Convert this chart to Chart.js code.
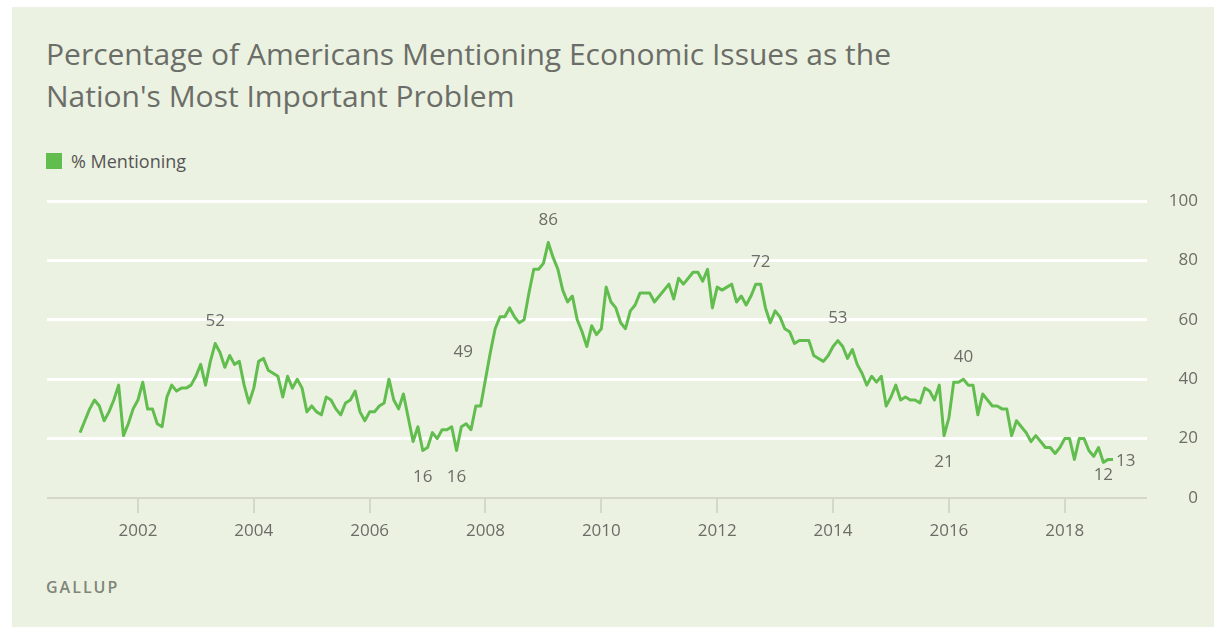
<!DOCTYPE html>
<html>
<head>
<meta charset="utf-8">
<title>Economic Issues as Most Important Problem</title>
<script src="https://cdn.jsdelivr.net/npm/chart.js@4.4.1/dist/chart.umd.min.js"></script>
<style>
  html, body { margin: 0; padding: 0; background: #fff; }
  body { width: 1226px; height: 635px; position: relative; overflow: hidden; font-family: "Open Sans", sans-serif; }
  .panel { position: absolute; left: 12px; top: 7px; width: 1202px; height: 620px; background: #ecf2e1; }
  .title { position: absolute; left: 46px; top: 33px; margin: 0; font-size: 30px; font-weight: 400; line-height: 42px; color: #6b6d68; }
  .legend { position: absolute; left: 46px; top: 153px; height: 16px; display: flex; align-items: center; font-size: 18px; color: #555; }
  .legend i { display: inline-block; width: 16px; height: 16px; background: #62bd4f; margin-right: 9px; }
  .source { position: absolute; left: 46px; top: 576px; font-size: 16px; font-weight: 600; letter-spacing: 2px; color: #80857a; }
  #wrap { position: absolute; left: 0; top: 180px; width: 1226px; height: 370px; }
</style>
</head>
<body>
<div class="panel"></div>
<h1 class="title">Percentage of Americans Mentioning Economic Issues as the<br>Nation's Most Important Problem</h1>
<div class="legend"><i></i>% Mentioning</div>
<div id="wrap"><canvas id="chart"></canvas></div>
<div class="source">GALLUP</div>

<script>
// monthly readings, starting January 2001
const startYear = 2001;
const pct = [
  22, 26, 30, 33, 31, 26, 29, 33, 38, 21, 25, 30, // 2001
  33, 39, 30, 30, 25, 24, 34, 38, 36, 37, 37, 38, // 2002
  41, 45, 38, 46, 52, 49, 44, 48, 45, 46, 38, 32, // 2003
  37, 46, 47, 43, 42, 41, 34, 41, 37, 40, 37, 29, // 2004
  31, 29, 28, 34, 33, 30, 28, 32, 33, 36, 29, 26, // 2005
  29, 29, 31, 32, 40, 33, 30, 35, 27, 19, 24, 16, // 2006
  17, 22, 20, 23, 23, 24, 16, 24, 25, 23, 31, 31, // 2007
  40, 49, 57, 61, 61, 64, 61, 59, 60, 69, 77, 77, // 2008
  79, 86, 81, 77, 70, 66, 68, 60, 56, 51, 58, 55, // 2009
  57, 71, 66, 64, 59, 57, 63, 65, 69, 69, 69, 66, // 2010
  68, 70, 72, 67, 74, 72, 74, 76, 76, 73, 77, 64, // 2011
  71, 70, 71, 72, 66, 68, 65, 68, 72, 72, 64, 59, // 2012
  63, 61, 57, 56, 52, 53, 53, 53, 48, 47, 46, 48, // 2013
  51, 53, 51, 47, 50, 45, 42, 38, 41, 39, 41, 31, // 2014
  34, 38, 33, 34, 33, 33, 32, 37, 36, 33, 38, 21, // 2015
  27, 39, 39, 40, 38, 38, 28, 35, 33, 31, 31, 30, // 2016
  30, 21, 26, 24, 22, 19, 21, 19, 17, 17, 15, 17, // 2017
  20, 20, 13, 20, 20, 16, 14, 17, 12, 13, 13      // 2018
];
const yearTicks = [2002, 2004, 2006, 2008, 2010, 2012, 2014, 2016, 2018];
const valueTicks = [0, 20, 40, 60, 80, 100];

// which points get a number printed next to them
const callouts = [
  { i: 28, side: "above" },
  { i: 71, side: "below" },
  { i: 78, side: "below" },
  { i: 85, side: "left" },
  { i: 97, side: "above" },
  { i: 141, side: "above" },
  { i: 157, side: "above" },
  { i: 179, side: "below" },
  { i: 183, side: "above" },
  { i: 212, side: "below", near: true },
  { i: 214, side: "right" }
];

const FONT = '"Open Sans", sans-serif';
const GREY = "#6b6d68";

const points = pct.map(function (v, i) {
  return { x: startYear + i / 12, y: v };
});

const calloutPlugin = {
  id: "callouts",
  afterDatasetsDraw(chart) {
    const meta = chart.getDatasetMeta(0).data;
    const ctx = chart.ctx;
    ctx.save();
    ctx.font = "17px " + FONT;
    ctx.fillStyle = GREY;
    ctx.textBaseline = "middle";
    callouts.forEach(function (c) {
      const p = meta[c.i];
      const txt = String(pct[c.i]);
      let x = p.x, y = p.y;
      ctx.textAlign = "center";
      if (c.side === "above") y -= 22;
      if (c.side === "below") y += c.near ? 13 : 27;
      if (c.side === "left") x -= 27;
      if (c.side === "right") { ctx.textAlign = "left"; x += 3; y += 2; }
      ctx.fillText(txt, x, y);
    });
    ctx.restore();
  }
};

Chart.defaults.font.family = FONT;

new Chart(document.getElementById("chart"), {
  type: "line",
  data: {
    datasets: [{
      label: "% Mentioning",
      data: points,
      borderColor: "#62bd4f",
      borderWidth: 3,
      borderJoinStyle: "round",
      pointRadius: 0,
      tension: 0,
      fill: false
    }]
  },
  options: {
    responsive: true,
    maintainAspectRatio: false,
    animation: false,
    layout: { padding: { left: 47, right: 28, top: 21, bottom: 0 } },
    plugins: {
      legend: { display: false },
      tooltip: { enabled: false }
    },
    scales: {
      x: {
        type: "linear",
        min: 2000.43,
        max: 2019.42,
        afterBuildTicks: function (axis) {
          axis.ticks = yearTicks.map(function (v) { return { value: v }; });
        },
        afterFit: function (axis) { axis.height = 52; },
        border: { display: false },
        grid: { drawOnChartArea: false, drawTicks: true, tickLength: 15, color: "#d4d8cb", lineWidth: 2 },
        ticks: {
          autoSkip: false,
          maxRotation: 0,
          padding: 8,
          color: GREY,
          font: { size: 17 },
          callback: function (v) { return String(v); }
        }
      },
      y: {
        position: "right",
        min: 0,
        max: 100,
        afterBuildTicks: function (axis) {
          axis.ticks = valueTicks.map(function (v) { return { value: v }; });
        },
        afterFit: function (axis) { axis.width = 51; },
        border: { display: false },
        grid: {
          drawTicks: false,
          color: function (c) { return c.tick.value === 0 ? "#d4d8cb" : "#ffffff"; },
          lineWidth: function (c) { return c.tick.value === 0 ? 2 : 3; }
        },
        ticks: {
          padding: 0,
          crossAlign: "far",
          color: GREY,
          font: { size: 17 }
        }
      }
    }
  },
  plugins: [calloutPlugin]
});
</script>
</body>
</html>
